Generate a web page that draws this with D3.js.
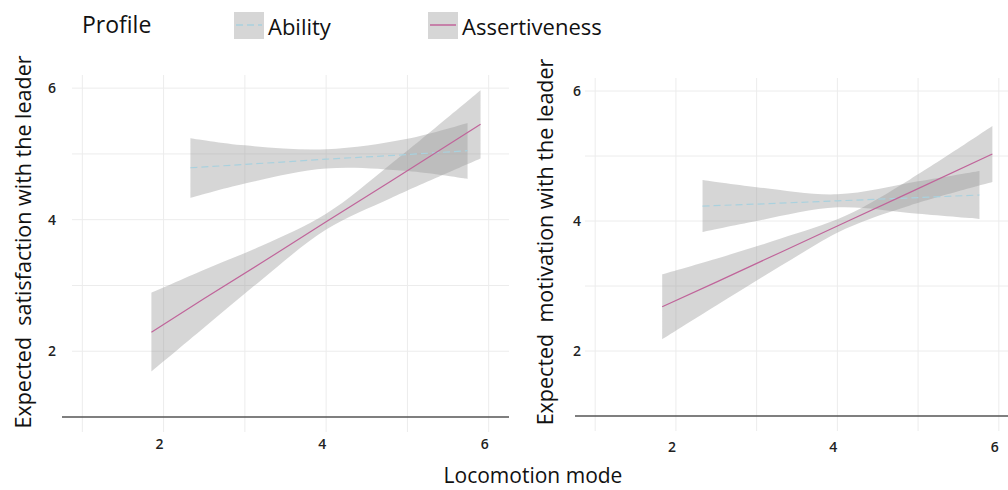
<!DOCTYPE html>
<html>
<head>
<meta charset="utf-8">
<script src="https://cdnjs.cloudflare.com/ajax/libs/d3/7.8.5/d3.min.js"></script>
<style>
  body { margin: 0; background: #fff; }
  svg { font-family: "Open Sans", "Noto Sans", sans-serif; }
</style>
</head>
<body>
<script>
// values
var profiles = ["Ability", "Assertiveness"];
var xTicks = [2, 4, 6];
var yTicks = [2, 4, 6];

// satisfaction panel
var satAbilityX = [2.33, 3.0, 4.0, 5.0, 5.74];
var satAbilityFit = [4.79, 4.84, 4.92, 4.99, 5.05];
var satAbilityLo = [4.33, 4.55, 4.78, 4.74, 4.62];
var satAbilityHi = [5.24, 5.13, 5.07, 5.23, 5.47];

var satAssertX = [1.85, 2.5, 3.2, 4.0, 4.8, 5.9];
var satAssertFit = [2.29, 2.80, 3.34, 3.97, 4.59, 5.45];
var satAssertLo = [1.69, 2.36, 3.08, 3.85, 4.33, 4.93];
var satAssertHi = [2.89, 3.24, 3.60, 4.09, 4.85, 5.97];

// motivation panel
var motAbilityX = [2.33, 3.0, 4.0, 5.0, 5.76];
var motAbilityFit = [4.23, 4.26, 4.31, 4.36, 4.40];
var motAbilityLo = [3.83, 4.00, 4.21, 4.11, 4.03];
var motAbilityHi = [4.63, 4.52, 4.41, 4.61, 4.77];

var motAssertX = [1.83, 2.5, 3.3, 4.1, 4.9, 5.92];
var motAssertFit = [2.68, 3.06, 3.52, 3.98, 4.44, 5.03];
var motAssertLo = [2.18, 2.70, 3.31, 3.88, 4.24, 4.60];
var motAssertHi = [3.18, 3.42, 3.73, 4.08, 4.64, 5.46];

var width = 1008,
    height = 490;

var svg = d3.select("body")
    .append("svg")
    .attr("width", width)
    .attr("height", height);

function zipSeries(xs, fit, lo, hi){
    return xs.map(function(x, i){
        return {x: x, fit: fit[i], lo: lo[i], hi: hi[i]};
    });
}

function drawPanel(p){
    var x = d3.scaleLinear().domain([0.75, 6.25]).range([p.left, p.right]);
    var y = d3.scaleLinear().domain([1, 6.2]).range([p.bottom, p.top]);

    var g = svg.append("g");

    // grid, major and minor look the same here
    g.selectAll(".vgrid")
        .data([1, 2, 3, 4, 5, 6])
        .enter().append("line")
        .attr("x1", function(d){ return x(d); })
        .attr("x2", function(d){ return x(d); })
        .attr("y1", y(6.2))
        .attr("y2", p.bottom + 15)
        .attr("stroke", "#ececec")
        .attr("stroke-width", 1);

    g.selectAll(".hgrid")
        .data([2, 3, 4, 5, 6])
        .enter().append("line")
        .attr("x1", p.left + 10)
        .attr("x2", p.right)
        .attr("y1", function(d){ return y(d); })
        .attr("y2", function(d){ return y(d); })
        .attr("stroke", "#ececec")
        .attr("stroke-width", 1);

    // x axis line only
    g.append("line")
        .attr("x1", p.left)
        .attr("x2", p.right)
        .attr("y1", y(1))
        .attr("y2", y(1))
        .attr("stroke", "#555")
        .attr("stroke-width", 1.5);

    var area = d3.area()
        .curve(d3.curveCatmullRom)
        .x(function(d){ return x(d.x); })
        .y0(function(d){ return y(d.lo); })
        .y1(function(d){ return y(d.hi); });

    var line = d3.line()
        .x(function(d){ return x(d.x); })
        .y(function(d){ return y(d.fit); });

    p.series.forEach(function(s){
        g.append("path")
            .datum(s.data)
            .attr("d", area)
            .attr("fill", "#999")
            .attr("fill-opacity", 0.4);
    });

    p.series.forEach(function(s){
        g.append("path")
            .datum(s.data)
            .attr("d", line)
            .attr("fill", "none")
            .attr("stroke", s.color)
            .attr("stroke-width", 1.2)
            .attr("stroke-dasharray", s.dash);
    });

    // tick labels
    g.selectAll(".xlab")
        .data(xTicks)
        .enter().append("text")
        .attr("x", function(d){ return x(d) - 4; })
        .attr("y", p.xLabY)
        .attr("text-anchor", "middle")
        .attr("font-size", 14)
        .attr("font-weight", 600)
        .attr("fill", "#222")
        .text(function(d){ return d; });

    g.selectAll(".ylab")
        .data(yTicks)
        .enter().append("text")
        .attr("x", p.yLabX)
        .attr("y", function(d){ return y(d) + 5; })
        .attr("text-anchor", "middle")
        .attr("font-size", 14)
        .attr("font-weight", 600)
        .attr("fill", "#222")
        .text(function(d){ return d; });

    // y title
    g.append("text")
        .attr("transform", "translate(" + p.titleX + "," + 242 + ") rotate(-90)")
        .attr("text-anchor", "middle")
        .attr("font-size", 21.5)
        .attr("fill", "#111")
        .style("white-space", "pre")
        .text(p.title);
}

var colors = {Ability: "#a9d1de", Assertiveness: "#c0649a"};
var dashes = {Ability: "7,4", Assertiveness: null};

drawPanel({
    left: 62, right: 509, top: 75, bottom: 417,
    xLabY: 449, yLabX: 52, titleX: 31,
    title: "Expected  satisfaction with the leader",
    series: [
        {data: zipSeries(satAbilityX, satAbilityFit, satAbilityLo, satAbilityHi), color: colors.Ability, dash: dashes.Ability},
        {data: zipSeries(satAssertX, satAssertFit, satAssertLo, satAssertHi), color: colors.Assertiveness, dash: dashes.Assertiveness}
    ]
});

drawPanel({
    left: 575, right: 1019, top: 78, bottom: 416,
    xLabY: 452, yLabX: 577, titleX: 553,
    title: "Expected  motivation with the leader",
    series: [
        {data: zipSeries(motAbilityX, motAbilityFit, motAbilityLo, motAbilityHi), color: colors.Ability, dash: dashes.Ability},
        {data: zipSeries(motAssertX, motAssertFit, motAssertLo, motAssertHi), color: colors.Assertiveness, dash: dashes.Assertiveness}
    ]
});

// x title
svg.append("text")
    .attr("x", 533)
    .attr("y", 483)
    .attr("text-anchor", "middle")
    .attr("font-size", 21)
    .attr("fill", "#111")
    .text("Locomotion mode");

// legend
var legend = svg.append("g");
legend.append("text")
    .attr("x", 82)
    .attr("y", 33)
    .attr("font-size", 23)
    .attr("fill", "#111")
    .text("Profile");

var legendX = [234, 428];
profiles.forEach(function(name, i){
    var lg = legend.append("g").attr("transform", "translate(" + legendX[i] + ",12)");
    lg.append("rect")
        .attr("width", 30)
        .attr("height", 27)
        .attr("fill", "#999")
        .attr("fill-opacity", 0.4);
    lg.append("line")
        .attr("x1", 2).attr("x2", 28)
        .attr("y1", 13).attr("y2", 13)
        .attr("stroke", colors[name])
        .attr("stroke-width", 1.5)
        .attr("stroke-dasharray", dashes[name]);
    lg.append("text")
        .attr("x", 34)
        .attr("y", 23)
        .attr("font-size", 22)
        .attr("fill", "#111")
        .text(name);
});
</script>
</body>
</html>
